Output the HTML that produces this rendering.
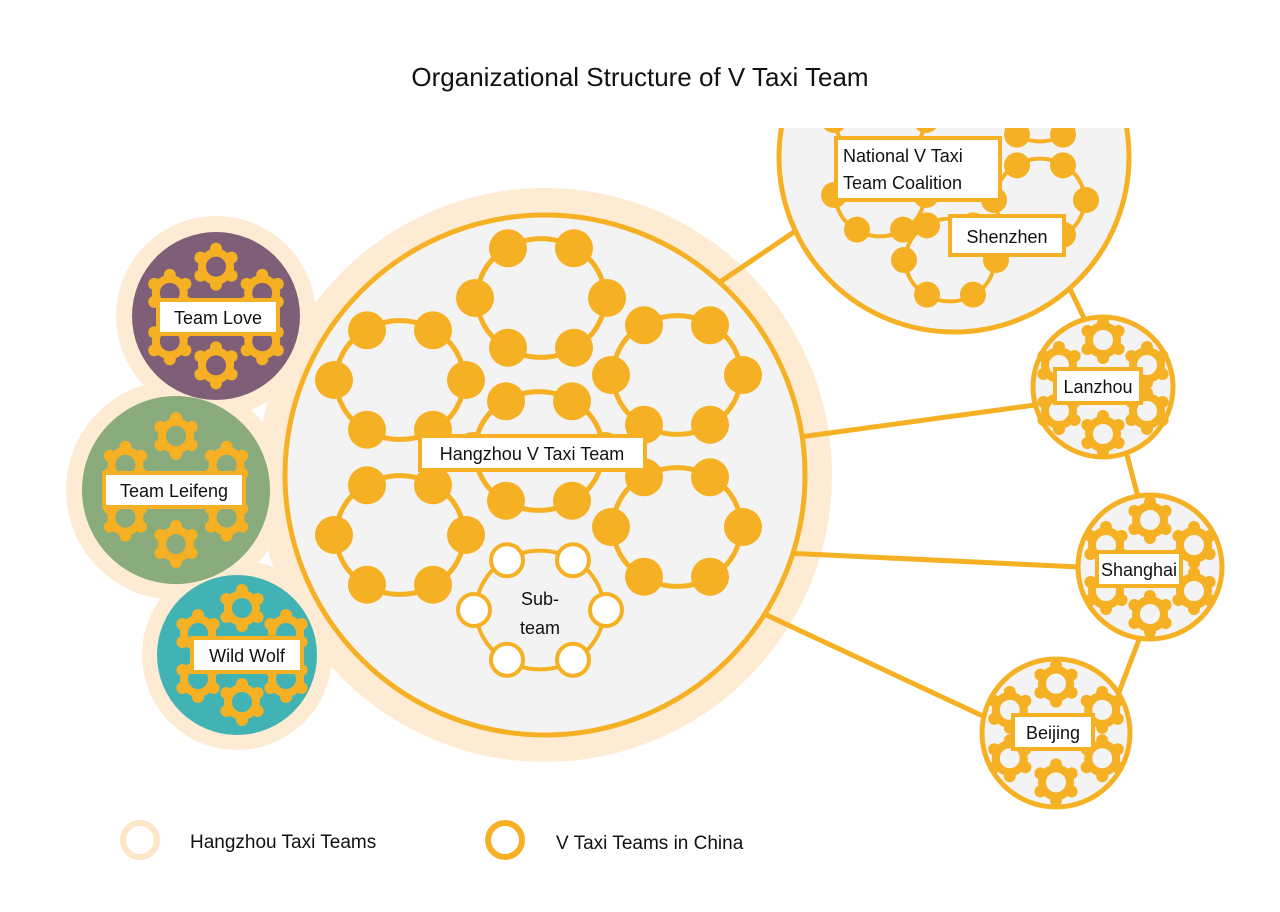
<!DOCTYPE html>
<html><head><meta charset="utf-8"><style>
html,body{margin:0;padding:0;background:#fff;}
svg{display:block;font-family:"Liberation Sans",sans-serif;}
</style></head><body>
<svg id="s" width="1280" height="912" viewBox="0 0 1280 912" xmlns="http://www.w3.org/2000/svg">
<defs>
<clipPath id="topclip"><rect x="0" y="128" width="1280" height="800"/></clipPath>
</defs>
<rect width="1280" height="912" fill="#fff"/>
<text x="640" y="86" font-size="26" text-anchor="middle" fill="#111">Organizational Structure of  V Taxi Team</text>

<g fill="#fdecd3">
<circle cx="545" cy="475" r="287"/>
<circle cx="216" cy="316" r="100"/>
<circle cx="176" cy="490" r="110"/>
<circle cx="237" cy="655" r="95"/>
</g>
<g stroke="#f5b123" stroke-width="5">
<line x1="720" y1="282" x2="800" y2="228"/>
<line x1="800" y1="437" x2="1035" y2="405"/>
<line x1="785" y1="553" x2="1080" y2="567"/>
<line x1="760" y1="612" x2="985" y2="717"/>
<line x1="1068" y1="285" x2="1085" y2="320"/>
<line x1="1127" y1="455" x2="1138" y2="497"/>
<line x1="1140" y1="637" x2="1116" y2="700"/>
</g>
<circle cx="216" cy="316" r="84" fill="#7f5f78"/>
<circle cx="176" cy="490" r="94" fill="#8aab7b"/>
<circle cx="237" cy="655" r="80" fill="#41b3b5"/>
<circle cx="545" cy="475" r="260" fill="#f3f3f3" stroke="#f5b123" stroke-width="5"/>
<g clip-path="url(#topclip)">
<circle cx="954" cy="157" r="175" fill="#f3f3f3" stroke="#f5b123" stroke-width="5"/>
<g id="trg"></g>
</g>
<circle cx="1103" cy="387" r="70" fill="#f3f3f3" stroke="#f5b123" stroke-width="5"/>
<circle cx="1150" cy="567" r="72" fill="#f3f3f3" stroke="#f5b123" stroke-width="5"/>
<circle cx="1056" cy="733" r="74" fill="#f3f3f3" stroke="#f5b123" stroke-width="5"/>
<g id="g"></g>

<g id="boxes" fill="#fff" stroke="#f5b123" stroke-width="4">
<rect x="420" y="436" width="225" height="34"/>
<rect x="836" y="138" width="164" height="62"/>
<rect x="950" y="216" width="114" height="39"/>
<rect x="1055" y="369" width="86" height="34"/>
<rect x="1097" y="552" width="84" height="34"/>
<rect x="1013" y="715" width="80" height="34"/>
<rect x="158" y="300" width="120" height="34"/>
<rect x="104" y="473" width="140" height="34"/>
<rect x="192" y="638" width="110" height="34"/>
</g>
<g id="labels" font-size="18" fill="#111">
<text x="532" y="460" text-anchor="middle">Hangzhou V Taxi Team</text>
<text x="843" y="162">National V Taxi</text>
<text x="843" y="189">Team Coalition</text>
<text x="1007" y="243" text-anchor="middle">Shenzhen</text>
<text x="1098" y="393" text-anchor="middle">Lanzhou</text>
<text x="1139" y="576" text-anchor="middle">Shanghai</text>
<text x="1053" y="739" text-anchor="middle">Beijing</text>
<text x="218" y="324" text-anchor="middle">Team Love</text>
<text x="174" y="497" text-anchor="middle">Team Leifeng</text>
<text x="247" y="662" text-anchor="middle">Wild Wolf</text>
<text x="540" y="605" text-anchor="middle">Sub-</text>
<text x="540" y="634" text-anchor="middle">team</text>
</g>

<circle cx="140" cy="840" r="17" fill="none" stroke="#fde6c6" stroke-width="6"/>
<circle cx="505" cy="840" r="17" fill="none" stroke="#f5b123" stroke-width="6"/>
<text x="190" y="848" font-size="19" fill="#111">Hangzhou Taxi Teams</text>
<text x="556" y="849" font-size="19" fill="#111">V Taxi Teams in China</text>
</svg>
<script>
var NS="http://www.w3.org/2000/svg",O="#f5b123";
function el(p,t,a){var e=document.createElementNS(NS,t);for(var k in a)e.setAttribute(k,a[k]);p.appendChild(e);return e;}
function hex(p,cx,cy,R,dr,sw,hollow){
  el(p,"ellipse",{cx:cx,cy:cy,rx:R*0.97,ry:R*0.9,fill:"none",stroke:O,"stroke-width":sw});
  for(var i=0;i<6;i++){var a=i*Math.PI/3;
    el(p,"circle",{cx:cx+R*Math.cos(a),cy:cy+R*0.87*Math.sin(a),r:dr,fill:hollow?"#fff":O,stroke:O,"stroke-width":hollow?4:0});}
}
function gear(p,cx,cy){
  el(p,"circle",{cx:cx,cy:cy,r:14,fill:"none",stroke:O,"stroke-width":8});
  for(var i=0;i<6;i++){var a=i*Math.PI/3+Math.PI/6;
    el(p,"circle",{cx:cx+18*Math.cos(a),cy:cy+18*Math.sin(a),r:6,fill:O});}
}
var g=document.getElementById("g"),t=document.getElementById("trg");
[[541,298],[400,380],[677,375],[539,451],[400,535],[677,527]].forEach(function(c){hex(g,c[0],c[1],66,19,5,false);});
hex(g,540,610,66,16,4,true);
[[880,195],[1040,200],[950,260],[880,120],[1040,100]].forEach(function(c){hex(t,c[0],c[1],46,13,4,false);});
function cluster(cx,cy,s){
  gear(g,cx,cy-47*s);gear(g,cx-44*s,cy-22*s);gear(g,cx+44*s,cy-22*s);
  gear(g,cx-44*s,cy+24*s);gear(g,cx+44*s,cy+24*s);gear(g,cx,cy+47*s);
}
cluster(1103,387,1);cluster(1150,567,1);cluster(1056,733,1.05);
cluster(216,316,1.05);cluster(176,490,1.15);cluster(242,655,1.0);
var s=document.getElementById("s");
s.appendChild(document.getElementById("boxes"));
s.appendChild(document.getElementById("labels"));
</script>
</body></html>
